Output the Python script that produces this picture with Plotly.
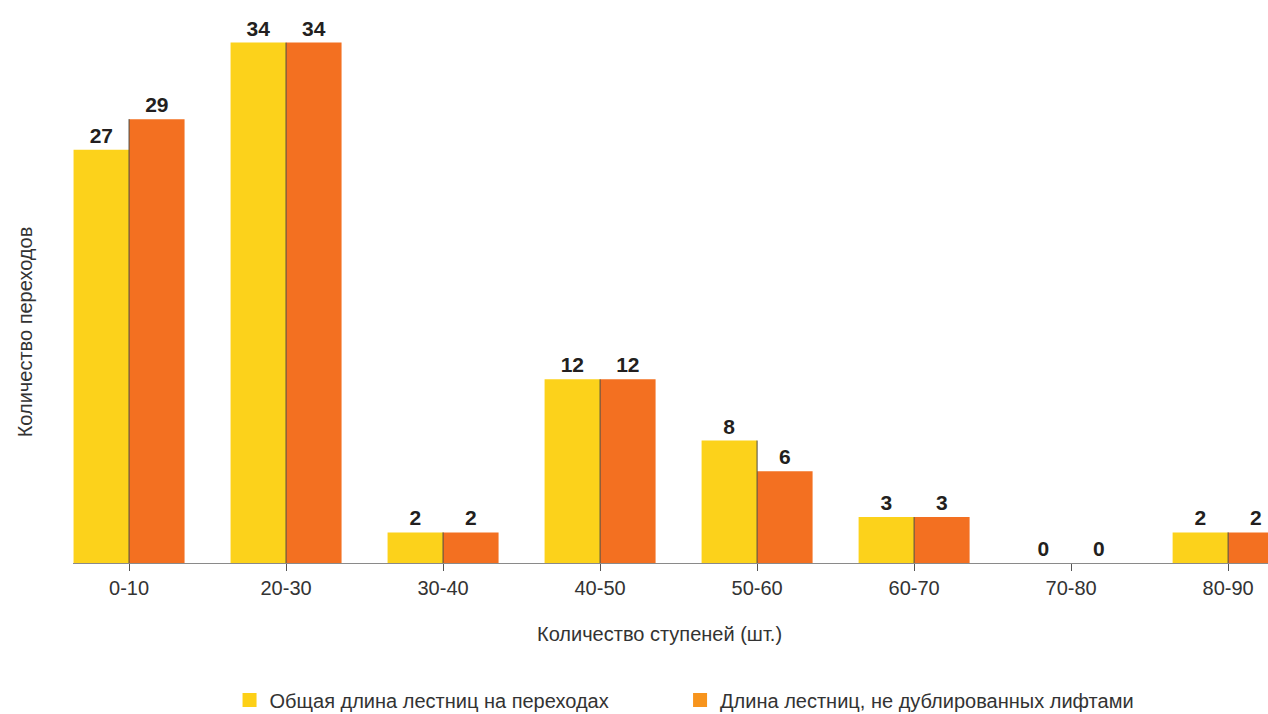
import plotly.graph_objects as go

# Step-count ranges and number of passages in each range
categories = ["0-10", "20-30", "30-40", "40-50", "50-60", "60-70", "70-80", "80-90"]
total_stairs = [27, 34, 2, 12, 8, 3, 0, 2]
no_lift_stairs = [29, 34, 2, 12, 6, 3, 0, 2]

series_names = [
    "Общая длина лестниц на переходах",
    "Длина лестниц, не дублированных лифтами",
]
x_title = "Количество ступеней (шт.)"
y_title = "Количество переходов"

YELLOW = "#FCD21B"
ORANGE = "#F37021"
LEGEND_YELLOW = "#FDD017"
LEGEND_ORANGE = "#F7941D"

FONT = "Liberation Sans, Arial, sans-serif"
TEXT_COLOR = "#333333"
label_font = dict(family=FONT, size=21, color="#231F20", weight="bold")
text_font = dict(family=FONT, size=20, color=TEXT_COLOR)

fig = go.Figure()

fig.add_trace(go.Bar(
    x=categories, y=total_stairs, name=series_names[0],
    marker=dict(color=YELLOW, line=dict(width=0)),
    text=[str(v) for v in total_stairs], textposition="outside",
    textfont=label_font, cliponaxis=False, showlegend=False,
))
fig.add_trace(go.Bar(
    x=categories, y=no_lift_stairs, name=series_names[1],
    marker=dict(color=ORANGE, line=dict(width=0)),
    text=[str(v) for v in no_lift_stairs], textposition="outside",
    textfont=label_font, cliponaxis=False, showlegend=False,
))

# thin divider between the paired bars, up to the taller one
div_x, div_y = [], []
for c, a, b in zip(categories, total_stairs, no_lift_stairs):
    div_x += [c, c, None]
    div_y += [0, max(a, b), None]
fig.add_trace(go.Scatter(
    x=div_x, y=div_y, mode="lines",
    line=dict(color="#4d4a40", width=1),
    hoverinfo="skip", showlegend=False,
))

# legend swatches, one legend box per series
for name, col, lg in zip(series_names, [LEGEND_YELLOW, LEGEND_ORANGE], ["legend", "legend2"]):
    fig.add_trace(go.Scatter(
        x=[None], y=[None], mode="markers", name=name, legend=lg,
        marker=dict(symbol="square", size=14, color=col),
    ))

legend_common = dict(
    orientation="h", xanchor="left", yanchor="middle",
    yref="container", y=0.0196,
    font=text_font, bgcolor="rgba(0,0,0,0)", borderwidth=0,
)

fig.update_layout(
    width=1268, height=714,
    margin=dict(l=73, r=0, t=12, b=151),
    paper_bgcolor="white", plot_bgcolor="white",
    barmode="group", bargap=0.293, bargroupgap=0,
    font=text_font,
    showlegend=True,
    legend=dict(x=0.131, **legend_common),
    legend2=dict(x=0.508, **legend_common),
    xaxis=dict(
        range=[-0.357, 7.254],
        showline=True, linecolor="#8a8a8a", linewidth=1,
        ticks="outside", ticklen=7, tickcolor="#555555", tickwidth=1,
        showgrid=False, zeroline=False,
        tickfont=text_font,
    ),
    yaxis=dict(
        range=[0, 36], showline=False, showgrid=False, zeroline=False,
        showticklabels=False, ticks="",
    ),
    annotations=[
        dict(text=x_title, xref="paper", yref="paper", x=0.491, y=-0.129,
             xanchor="center", yanchor="middle", showarrow=False, font=text_font),
        dict(text=y_title, xref="paper", yref="paper", x=-0.040, y=0.419,
             xanchor="center", yanchor="middle", textangle=-90,
             showarrow=False, font=text_font),
    ],
)

fig.write_html("out.html")
